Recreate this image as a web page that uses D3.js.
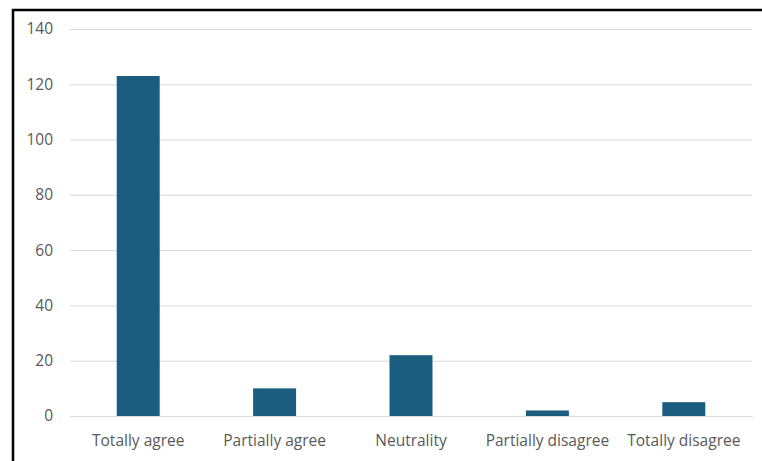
<!DOCTYPE html>
<html><head><meta charset="utf-8">
<script src="https://cdn.jsdelivr.net/npm/d3@7"></script>
<style>body{margin:0;background:#fff}svg{display:block}</style>
</head><body>
<svg id="c" width="762" height="461"></svg>
<script>
const categories = ["Totally agree","Partially agree","Neutrality","Partially disagree","Totally disagree"];
const values = [123, 10, 22, 2, 5];
const yTicks = [0,20,40,60,80,100,120,140];

const svg = d3.select("#c");
const W = 762, H = 461;
const x = d3.scaleBand().domain(categories).range([70, 752]).padding(0);
const y = d3.scaleLinear().domain([0,140]).range([416, 29]);

svg.append("rect").attr("x",0).attr("y",0).attr("width",W).attr("height",H).attr("fill","#fff");
// border
svg.append("path").attr("d","M13,470 L13,10 L770,10").attr("fill","none").attr("stroke","#000").attr("stroke-width",2.5);

// grid
const ya = d3.axisLeft(y).tickValues(yTicks).tickSize(-(752-70)).tickPadding(17);
const gy = svg.append("g").attr("transform","translate(70,0)").call(ya);
gy.select(".domain").remove();
gy.selectAll(".tick line").attr("stroke","#d9d9d9").attr("stroke-width",1);
gy.selectAll(".tick text").attr("fill","#595959").attr("font-family","Open Sans, sans-serif").attr("font-size","15.5px");

const bw = x.bandwidth()*0.315;
svg.append("g").selectAll("rect").data(values).join("rect")
  .attr("x",(d,i)=>x(categories[i])+x.bandwidth()/2-bw/2)
  .attr("width",bw)
  .attr("y",d=>y(d))
  .attr("height",d=>y(0)-y(d))
  .attr("fill","#1a5d7e");

const xa = d3.axisBottom(x).tickSize(0).tickPadding(19);
const gx = svg.append("g").attr("transform","translate(0,416)").call(xa);
gx.select(".domain").attr("stroke","#d9d9d9");
gx.selectAll(".tick text").attr("fill","#595959").attr("font-family","Open Sans, sans-serif").attr("font-size","15.5px");
</script>
</body></html>
